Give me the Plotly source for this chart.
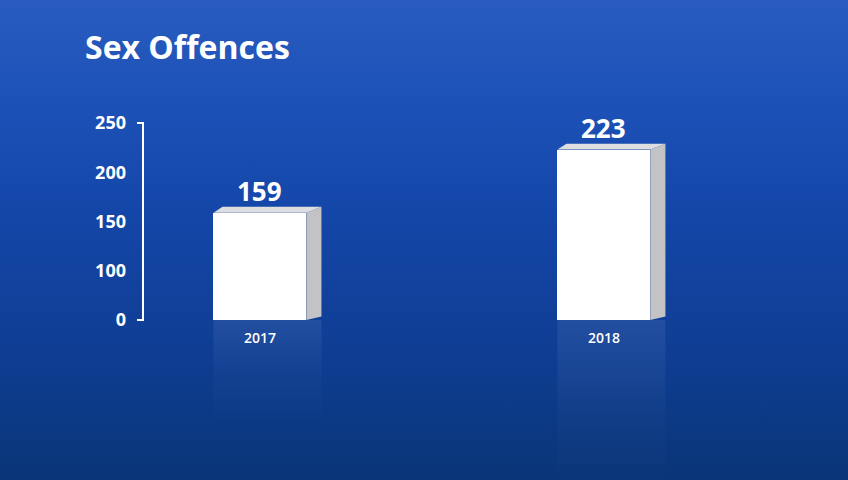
import plotly.graph_objects as go

# ---- data ----
years = ["2017", "2018"]
offences = [159, 223]
axis_base = 50  # the chart's baseline sits at the tick labelled "0"
tick_vals = [50, 100, 150, 200, 250]
tick_text = ["0", "100", "150", "200", "250"]
title_text = "Sex Offences"

# ---- geometry (style) ----
W, H = 848, 480
bar_w = 0.27          # category units
depth_dx = 0.044      # category units
depth_dy = 6.0        # value units
x_pos = list(range(len(years)))
x_range = [-0.334, 1.454]
y_range = [-112.4, 278.4]
x_dom = [145 / W, 760 / W]
y_dom = [0, 1 - 95 / H]
FONT = "Open Sans"

fig = go.Figure()

# background gradient on a full-paper axis pair
fig.add_trace(go.Scatter(
    x=[0, 1, 1, 0, 0], y=[0, 0, 1, 1, 0], mode="lines", line=dict(width=0),
    fill="toself",
    fillgradient=dict(type="vertical", colorscale=[
        [0.0, "#0a3577"], [0.25, "#0e3d92"], [0.55, "#1446a8"],
        [0.8, "#1d52b8"], [1.0, "#2a5cbf"]], start=0, stop=1),
    hoverinfo="skip", showlegend=False, xaxis="x", yaxis="y"))

for i, v in zip(x_pos, offences):
    xl, xr = i - bar_w / 2, i + bar_w / 2
    h = v - axis_base
    # reflection
    fig.add_trace(go.Scatter(
        x=[xl, xr + depth_dx, xr + depth_dx, xl, xl],
        y=[axis_base, axis_base, axis_base - h, axis_base - h, axis_base],
        mode="lines", line=dict(width=0), fill="toself",
        fillgradient=dict(type="vertical", colorscale=[
            [0.0, "rgba(255,255,255,0)"], [0.5, "rgba(255,255,255,0.025)"],
            [1.0, "rgba(255,255,255,0.08)"]], start=axis_base - h, stop=axis_base),
        hoverinfo="skip", showlegend=False, xaxis="x2", yaxis="y2"))
    # side face
    fig.add_trace(go.Scatter(
        x=[xr, xr + depth_dx, xr + depth_dx, xr, xr],
        y=[axis_base, axis_base + depth_dy * 0.6, v + depth_dy, v, axis_base],
        mode="lines", line=dict(width=0), fill="toself", fillcolor="#c3c3c6",
        hoverinfo="skip", showlegend=False, xaxis="x2", yaxis="y2"))
    # top face
    fig.add_trace(go.Scatter(
        x=[xl, xr, xr + depth_dx, xl + depth_dx * 0.6, xl],
        y=[v, v, v + depth_dy, v + depth_dy, v], mode="lines",
        line=dict(width=0), fill="toself", fillcolor="#dedee0",
        hoverinfo="skip", showlegend=False, xaxis="x2", yaxis="y2"))

# front faces
fig.add_trace(go.Bar(
    x=x_pos, y=[v - axis_base for v in offences], base=axis_base, width=bar_w,
    marker=dict(color="#ffffff", line=dict(width=0)),
    hoverinfo="skip", showlegend=False, xaxis="x2", yaxis="y2"))

annotations = []
for i, v, yr in zip(x_pos, offences, years):
    annotations.append(dict(x=i, y=v + depth_dy, xref="x2", yref="y2", text=str(v),
                            showarrow=False, yanchor="bottom", yshift=-4,
                            font=dict(family=FONT, size=26, color="white", weight=700)))
    annotations.append(dict(x=i, y=axis_base, xref="x2", yref="y2", text=yr,
                            showarrow=False, yanchor="top", yshift=-6,
                            font=dict(family=FONT, size=14, color="white", weight=600)))
annotations.append(dict(x=83 / W, y=1 - 46 / H, xref="paper", yref="paper",
                        text=title_text, showarrow=False, xanchor="left", yanchor="middle",
                        font=dict(family=FONT, size=32, color="white", weight=700)))

ax_x = 143 / W
tick_x = 137 / W
shapes = [dict(type="path", xref="paper", yref="y2",
               path=f"M {tick_x},{tick_vals[-1]} L {ax_x},{tick_vals[-1]} L {ax_x},{tick_vals[0]} L {tick_x},{tick_vals[0]}",
               line=dict(color="white", width=2))]

fig.update_layout(
    width=W, height=H, margin=dict(l=0, r=0, t=0, b=0),
    paper_bgcolor="#1446a8", plot_bgcolor="rgba(0,0,0,0)",
    xaxis=dict(domain=[0, 1], range=[0, 1], visible=False, fixedrange=True),
    yaxis=dict(domain=[0, 1], range=[0, 1], visible=False, fixedrange=True),
    xaxis2=dict(domain=x_dom, range=x_range, anchor="y2", showgrid=False,
                zeroline=False, showticklabels=False, showline=False),
    yaxis2=dict(domain=y_dom, range=y_range, anchor="x2", showgrid=False,
                zeroline=False, showline=False, tickvals=tick_vals, ticktext=tick_text,
                ticks="", ticklabelstandoff=18,
                tickfont=dict(family=FONT, size=18, color="white", weight=700)),
    annotations=annotations, shapes=shapes, bargap=0,
)

fig.write_html("out.html", config={"displayModeBar": False},
               post_script="document.body.style.margin='0';")
